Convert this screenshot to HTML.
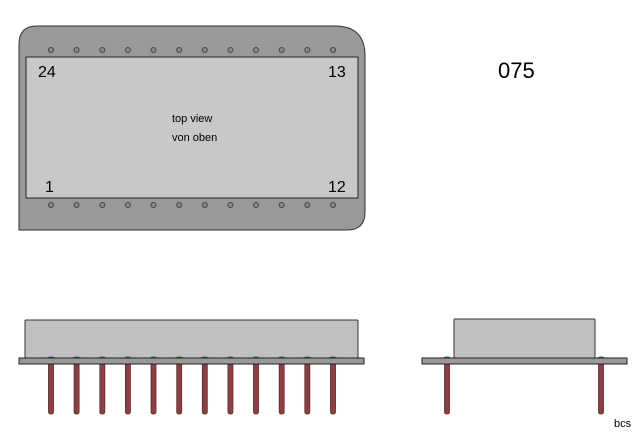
<!DOCTYPE html>
<html><head><style>body{margin:0;background:#fff}svg{display:block}</style></head><body>
<svg width="640" height="435" viewBox="0 0 640 435" xmlns="http://www.w3.org/2000/svg" font-family="Liberation Sans, sans-serif">
<path d="M19,44 Q19,26 37,26 L335,26 Q365,26 365,56 L365,212 Q365,230 347,230 L19,230 Z" fill="#999" stroke="#333" stroke-width="1"/>
<rect x="26" y="57" width="332" height="141" fill="#c8c8c8" stroke="#222" stroke-width="1"/>
<g fill="#888" stroke="#444" stroke-width="1">
<circle cx="51" cy="50" r="2.5"/><circle cx="76.6" cy="50" r="2.5"/><circle cx="102.3" cy="50" r="2.5"/><circle cx="127.9" cy="50" r="2.5"/><circle cx="153.5" cy="50" r="2.5"/><circle cx="179.2" cy="50" r="2.5"/><circle cx="204.8" cy="50" r="2.5"/><circle cx="230.4" cy="50" r="2.5"/><circle cx="256" cy="50" r="2.5"/><circle cx="281.7" cy="50" r="2.5"/><circle cx="307.3" cy="50" r="2.5"/><circle cx="333" cy="50" r="2.5"/>
<circle cx="51" cy="205" r="2.5"/><circle cx="76.6" cy="205" r="2.5"/><circle cx="102.3" cy="205" r="2.5"/><circle cx="127.9" cy="205" r="2.5"/><circle cx="153.5" cy="205" r="2.5"/><circle cx="179.2" cy="205" r="2.5"/><circle cx="204.8" cy="205" r="2.5"/><circle cx="230.4" cy="205" r="2.5"/><circle cx="256" cy="205" r="2.5"/><circle cx="281.7" cy="205" r="2.5"/><circle cx="307.3" cy="205" r="2.5"/><circle cx="333" cy="205" r="2.5"/>
</g>
<g font-size="16" fill="#000">
<text x="38" y="77">24</text><text x="328" y="77">13</text>
<text x="45" y="192">1</text><text x="328" y="192">12</text>
</g>
<text x="172" y="122" font-size="11">top view</text>
<text x="172" y="141" font-size="11">von oben</text>
<text x="498" y="78" font-size="22">075</text>
<!-- side view -->
<rect x="25" y="320" width="333" height="38" rx="1" fill="#c0c0c0" stroke="#333"/>
<g fill="#8f3f44" stroke="#5a2a2a" stroke-width="0.8">
<rect x="48.5" y="363" width="5" height="51" rx="2"/><rect x="74.1" y="363" width="5" height="51" rx="2"/><rect x="99.8" y="363" width="5" height="51" rx="2"/><rect x="125.4" y="363" width="5" height="51" rx="2"/><rect x="151" y="363" width="5" height="51" rx="2"/><rect x="176.7" y="363" width="5" height="51" rx="2"/><rect x="202.3" y="363" width="5" height="51" rx="2"/><rect x="227.9" y="363" width="5" height="51" rx="2"/><rect x="253.5" y="363" width="5" height="51" rx="2"/><rect x="279.2" y="363" width="5" height="51" rx="2"/><rect x="304.8" y="363" width="5" height="51" rx="2"/><rect x="330.5" y="363" width="5" height="51" rx="2"/>
<rect x="444.5" y="363" width="5" height="51" rx="2"/><rect x="598.5" y="363" width="5" height="51" rx="2"/>
</g>
<g fill="#555">
<ellipse cx="51" cy="358" rx="4" ry="1.5"/><ellipse cx="76.6" cy="358" rx="4" ry="1.5"/><ellipse cx="102.3" cy="358" rx="4" ry="1.5"/><ellipse cx="127.9" cy="358" rx="4" ry="1.5"/><ellipse cx="153.5" cy="358" rx="4" ry="1.5"/><ellipse cx="179.2" cy="358" rx="4" ry="1.5"/><ellipse cx="204.8" cy="358" rx="4" ry="1.5"/><ellipse cx="230.4" cy="358" rx="4" ry="1.5"/><ellipse cx="256" cy="358" rx="4" ry="1.5"/><ellipse cx="281.7" cy="358" rx="4" ry="1.5"/><ellipse cx="307.3" cy="358" rx="4" ry="1.5"/><ellipse cx="333" cy="358" rx="4" ry="1.5"/>
<ellipse cx="447" cy="358" rx="4" ry="1.5"/><ellipse cx="601" cy="358" rx="4" ry="1.5"/>
</g>
<rect x="19" y="358" width="345" height="6" fill="#999" stroke="#222"/>
<rect x="454" y="319" width="141" height="39" rx="1" fill="#c0c0c0" stroke="#333"/>
<rect x="422" y="358" width="205" height="6" fill="#999" stroke="#222"/>
<text x="614" y="427" font-size="11">bcs</text>
</svg>
</body></html>
